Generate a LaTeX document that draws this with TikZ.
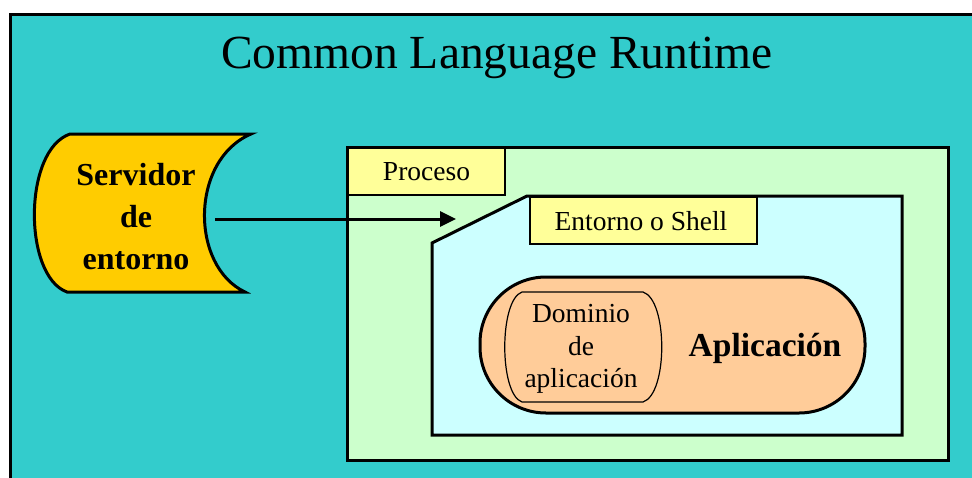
\documentclass[tikz,border=0pt]{standalone}
\usepackage{fontspec}
\setmainfont{Liberation Serif}
\usetikzlibrary{arrows.meta}
\definecolor{clrbg}{HTML}{33CCCC}
\definecolor{clrproc}{HTML}{CCFFCC}
\definecolor{clrshell}{HTML}{CCFFFF}
\definecolor{clrlabel}{HTML}{FFFF99}
\definecolor{clrapp}{HTML}{FFCC99}
\definecolor{clrsrv}{HTML}{FFCC00}
\tikzset{
  thickline/.style={draw=black, line width=3},
  tagbox/.style={draw=black, line width=1.5, fill=clrlabel},
  txt/.style={inner sep=0, text=black},
}
\begin{document}
\begin{tikzpicture}[x=1pt, y=-1pt]
\useasboundingbox (0,0) rectangle (972,477);
\clip (0,0) rectangle (972,477);

% runtime area
\fill[white] (0,0) rectangle (972,477);
\path[thickline, fill=clrbg] (10,14) rectangle (990,500);
\node[txt, anchor=base, font=\fontsize{47.5}{50}\selectfont] (title) at (497,68) {Common Language Runtime};

% environment server (stored-data symbol)
\path[thickline, fill=clrsrv]
  (70,134) -- (251,134)
  .. controls (190,160) and (190,266) .. (245,292)
  -- (67,292)
  .. controls (23,276) and (23,150) .. (70,134) -- cycle;
\node[txt, align=center, font=\fontsize{32}{42}\selectfont\bfseries] (srv) at (136,217) {Servidor\\de\\entorno};

% process
\path[thickline, fill=clrproc] (347,147) rectangle (948,460);
\path[tagbox] (348,148) rectangle (505,195);
\node[txt, font=\fontsize{27.5}{30}\selectfont] (proc) at (426.5,172) {Proceso};

% shell
\path[thickline, fill=clrshell] (432,243) -- (527,196) -- (902,196) -- (902,435) -- (432,435) -- cycle;
\path[tagbox] (530,197) rectangle (757,244);
\node[txt, font=\fontsize{27.5}{30}\selectfont] (shell) at (641,221) {Entorno o Shell};

% application
\path[thickline, fill=clrapp, rounded corners=66] (480,277) rectangle (865,413);
\path[draw=black, line width=1.2]
  (522,292) -- (643,292)
  .. controls (668,300) and (668,394) .. (643,402)
  -- (522,402)
  .. controls (499,394) and (499,300) .. (522,292) -- cycle;
\node[txt, align=center, font=\fontsize{27.5}{32.5}\selectfont] (dom) at (581,349) {Dominio\\de\\aplicación};
\node[txt, anchor=base, font=\fontsize{33.5}{36}\selectfont\bfseries] (app) at (765,356) {Aplicación};

% connector from the server into the process
\coordinate (from) at (215,219);
\coordinate (into) at (456,219);
\draw[line width=3, -{Triangle[length=16,width=15]}] (from) -- (into);
\end{tikzpicture}
\end{document}
